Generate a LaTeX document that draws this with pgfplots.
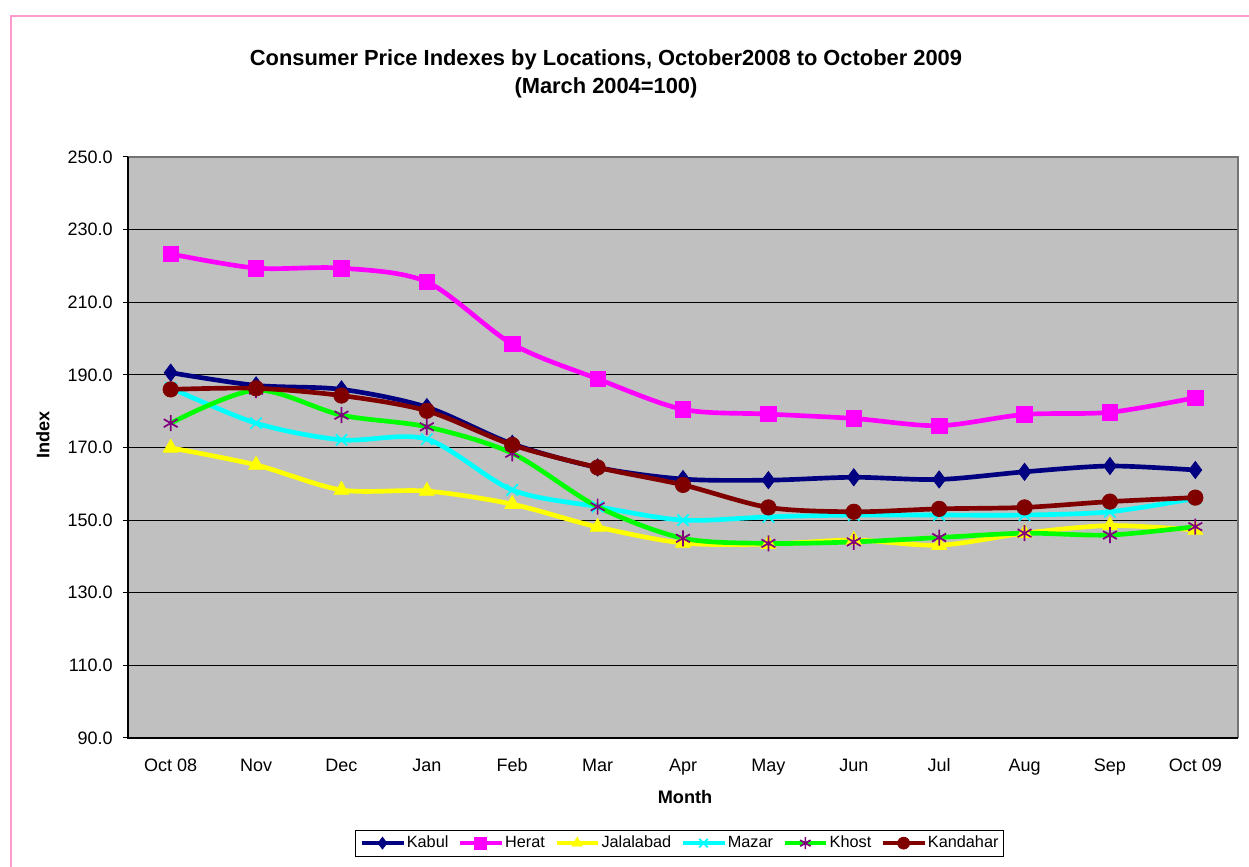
\documentclass[border=0pt]{standalone}
\usepackage{fontspec}
\setmainfont{Liberation Sans}
\usepackage{pgfplots}
\usepackage{pgfplotstable}
\pgfplotsset{compat=1.18}
\definecolor{kabul}{HTML}{000080}
\definecolor{herat}{HTML}{FF00FF}
\definecolor{jal}{HTML}{FFFF00}
\definecolor{mazar}{HTML}{00FFFF}
\definecolor{khost}{HTML}{00FF00}
\definecolor{khostm}{HTML}{800080}
\definecolor{kand}{HTML}{800000}
\definecolor{pinkframe}{HTML}{FF99CC}
\definecolor{plotbg}{HTML}{C0C0C0}

\pgfplotstableread{
x kabul herat jal mazar khost kand
0 190.6 223.3 169.9 186.4 176.7 186.0
1 187.1 219.4 165.2 176.7 185.8 186.3
2 186.0 219.4 158.3 172.1 178.9 184.3
3 181.1 215.6 158.0 172.3 175.7 180.1
4 171.0 198.5 154.4 158.3 168.4 170.7
5 164.5 188.9 148.1 153.7 153.7 164.5
6 161.3 180.5 143.7 150.0 145.0 159.7
7 161.0 179.2 143.4 150.9 143.6 153.5
8 161.8 178.0 144.5 151.4 144.0 152.3
9 161.2 176.0 143.1 151.4 145.2 153.1
10 163.3 179.1 146.4 151.4 146.4 153.5
11 164.9 179.7 148.5 152.3 145.9 155.1
12 163.8 183.7 147.3 156.0 148.2 156.2
}\cpidata

\begin{document}
\begin{tikzpicture}[x=0.75pt,y=0.75pt]
\useasboundingbox (0,0) rectangle (1249,867);
\draw[pinkframe, line width=1.5pt] (11,-5) -- (11,851) -- (1255,851);
\node[font=\bfseries\fontsize{16.4pt}{19pt}\selectfont] at (606,807) {Consumer Price Indexes by Locations, October2008 to October 2009};
\node[font=\bfseries\fontsize{16.4pt}{19pt}\selectfont] at (606,779) {(March 2004=100)};
\node[font=\bfseries\fontsize{13.6pt}{16pt}\selectfont] at (685,70) {Month};
\node[font=\bfseries\fontsize{13.6pt}{16pt}\selectfont, rotate=90] at (43,432) {Index};
\begin{axis}[
  at={(96pt,96.75pt)}, anchor=south west,
  scale only axis, width=832.5pt, height=435.75pt,
  xmin=-0.5, xmax=12.5, ymin=90, ymax=250,
  axis background/.style={fill=plotbg},
  axis line style={draw=none},
  xtick={0,...,12},
  xticklabels={Oct 08,Nov,Dec,Jan,Feb,Mar,Apr,May,Jun,Jul,Aug,Sep,Oct 09},
  major x tick style={draw=none},
  extra x ticks={-0.5,0.5,...,12.5},
  extra x tick labels={},
  extra x tick style={tick style={draw=black, line width=0.75pt}, major tick length=5pt, tick align=outside},
  ytick={90,110,...,250},
  ymajorgrids, grid style={black, line width=0.75pt},
  major y tick style={draw=black, line width=0.75pt},
  major tick length=4pt, tick align=outside,
  xtick pos=bottom, ytick pos=left,
  yticklabel style={xshift=-4pt, /pgf/number format/.cd, fixed, fixed zerofill, precision=1},
  /pgf/number format/assume math mode=true,
  tick label style={font=\fontsize{13.5pt}{16pt}\selectfont},
  xticklabel style={yshift=-7.5pt, text height=10pt, text depth=3pt},
  clip=false,
  legend columns=6,
  legend style={at={(0.497,-0.181)}, anchor=center, draw=black, line width=0.75pt,
    font=\fontsize{12.2pt}{14pt}\selectfont, inner xsep=3pt, inner ysep=2pt,
    /tikz/every odd column/.append style={column sep=0pt},
    /tikz/every even column/.append style={column sep=6pt},
    nodes={inner xsep=1pt, text height=9pt, text depth=2.5pt}},
  legend cell align=left,
  legend image code/.code={\draw[#1, line width=3.5pt] (0pt,0pt) -- (31pt,0pt); \draw[#1, mark repeat=2, mark phase=2, mark size=4.5pt] plot coordinates {(0pt,0pt) (15.5pt,0pt) (31pt,0pt)};},
  every axis plot/.append style={line width=3.5pt, smooth, tension=0.5},
]
\draw[gray!90!black, line width=1pt] (axis cs:-0.5,250) -- (axis cs:12.5,250) -- (axis cs:12.5,90);
\draw[black, line width=1pt] (axis cs:-0.5,250) -- (axis cs:-0.5,90) -- (axis cs:12.5,90);
\addplot[kabul, mark=diamond*, mark size=6.5pt, mark options={solid, line width=0.5pt}] table[x=x,y=kabul] {\cpidata};
\addlegendentry{Kabul}
\addplot[herat, mark=square*, mark size=5.8pt, mark options={solid, line width=0.5pt}] table[x=x,y=herat] {\cpidata};
\addlegendentry{Herat}
\addplot[jal, mark=triangle*, mark size=6.5pt, mark options={solid, line width=0.5pt}] table[x=x,y=jal] {\cpidata};
\addlegendentry{Jalalabad}
\addplot[mazar, mark=x, mark size=6pt, mark options={solid, line width=1.3pt}] table[x=x,y=mazar] {\cpidata};
\addlegendentry{Mazar}
\addplot[khost, mark=asterisk, mark size=6pt, mark options={solid, draw=khostm, line width=1.3pt}] table[x=x,y=khost] {\cpidata};
\addlegendentry{Khost}
\addplot[kand, mark=*, mark size=5.8pt, mark options={solid, line width=0.5pt}] table[x=x,y=kand] {\cpidata};
\addlegendentry{Kandahar}
\end{axis}
\end{tikzpicture}
\end{document}
